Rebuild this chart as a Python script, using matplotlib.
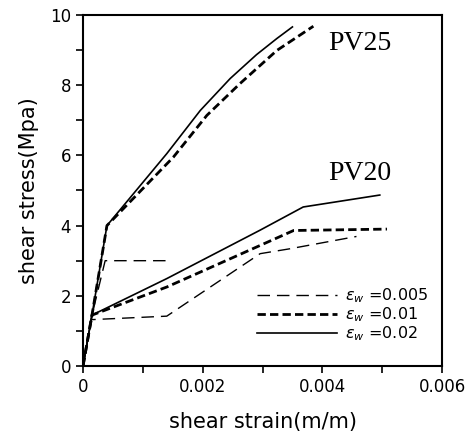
import numpy as np
import matplotlib.pyplot as plt

# PV25 curves (strain, stress)
pv25_x_005 = [0, 0.00015, 0.00037, 0.0014]
pv25_y_005 = [0, 1.45, 3.0, 3.0]
pv25_x_01 = [0, 0.00015, 0.0004, 0.00151, 0.00207, 0.00262, 0.00324, 0.00385]
pv25_y_01 = [0, 1.45, 4.0, 5.95, 7.14, 8.04, 8.99, 9.68]
pv25_x_02 = [0, 0.00015, 0.0004, 0.0014, 0.00196, 0.00246, 0.0029, 0.00324, 0.0035]
pv25_y_02 = [0, 1.45, 4.0, 6.05, 7.28, 8.19, 8.87, 9.33, 9.66]

# PV20 curves
pv20_x_005 = [0, 0.00014, 0.0014, 0.00296, 0.00346, 0.00457]
pv20_y_005 = [0, 1.32, 1.42, 3.2, 3.34, 3.69]
pv20_x_01 = [0, 0.00015, 0.0014, 0.00352, 0.00508]
pv20_y_01 = [0, 1.45, 2.25, 3.86, 3.9]
pv20_x_02 = [0, 0.00015, 0.0014, 0.00296, 0.00368, 0.00496]
pv20_y_02 = [0, 1.45, 2.49, 3.87, 4.53, 4.87]

labels = [r'$\varepsilon_w$ =0.005', r'$\varepsilon_w$ =0.01', r'$\varepsilon_w$ =0.02']

fig = plt.figure(figsize=(4.73, 4.38), dpi=100)
ax = fig.add_axes([0.1755, 0.1644, 0.759, 0.8014])

s005 = dict(color='black', lw=1.0, dashes=(9, 5))
s01 = dict(color='black', lw=2.0, dashes=(3, 1.5))
s02 = dict(color='black', lw=1.2)

ax.plot(pv20_x_005, pv20_y_005, label=labels[0], **s005)
ax.plot(pv20_x_01, pv20_y_01, label=labels[1], **s01)
ax.plot(pv20_x_02, pv20_y_02, label=labels[2], **s02)
ax.plot(pv25_x_005, pv25_y_005, **s005)
ax.plot(pv25_x_01, pv25_y_01, **s01)
ax.plot(pv25_x_02, pv25_y_02, **s02)

ax.text(0.00463, 9.18, 'PV25', family='Liberation Serif', fontsize=20,
        ha='center', va='center')
ax.text(0.00463, 5.48, 'PV20', family='Liberation Serif', fontsize=20,
        ha='center', va='center')

ax.set_xlim(0, 0.006)
ax.set_ylim(0, 10)
ax.set_xticks([0, 0.002, 0.004, 0.006])
ax.set_xticklabels(['0', '0.002', '0.004', '0.006'])
ax.set_xticks([0.001, 0.003, 0.005], minor=True)
ax.set_yticks([0, 2, 4, 6, 8, 10])
ax.set_yticks([1, 3, 5, 7, 9], minor=True)
ax.tick_params(which='both', direction='out', length=5, width=1.2,
               labelsize=12, top=False, right=False)
for sp in ax.spines.values():
    sp.set_linewidth(1.5)

ax.set_xlabel('shear strain(m/m)', fontsize=15, labelpad=12)
ax.set_ylabel('shear stress(Mpa)', fontsize=15, labelpad=8)

ax.legend(loc='lower right', bbox_to_anchor=(1.0, 0.025), frameon=False,
          fontsize=11.5, handlelength=5.0, handletextpad=0.5, labelspacing=0.0)

plt.savefig('out.png', dpi=100)
